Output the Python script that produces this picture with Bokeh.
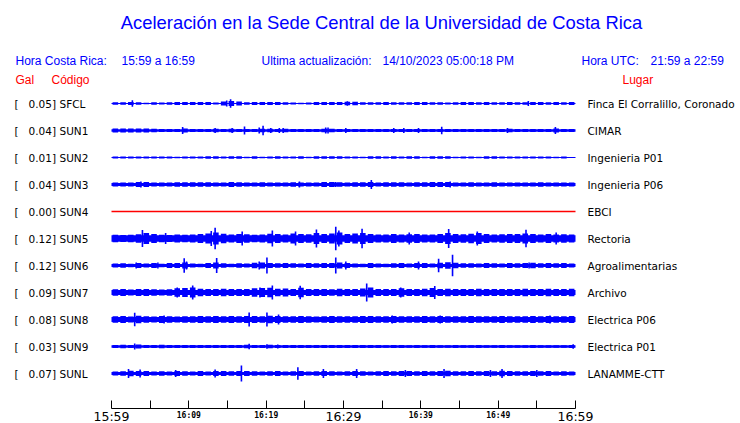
from bokeh.plotting import figure
from bokeh.layouts import column
from bokeh.models import Range1d, FixedTicker
from bokeh.core.properties import value
from bokeh.embed import file_html
from bokeh.resources import INLINE

# ---------------- data ----------------
title = "Aceleración en la Sede Central de la Universidad de Costa Rica"
hdr_left = ["Hora Costa Rica:", "15:59 a 16:59"]
hdr_mid = ["Ultima actualización:", "14/10/2023 05:00:18 PM"]
hdr_right = ["Hora UTC:", "21:59 a 22:59"]
col_heads = ["Gal", "Código", "Lugar"]

codes = ["SFCL", "SUN1", "SUN2", "SUN3", "SUN4", "SUN5", "SUN6", "SUN7", "SUN8", "SUN9", "SUNL"]
places = ["Finca El Corralillo, Coronado", "CIMAR", "Ingenieria P01", "Ingenieria P06", "EBCI",
          "Rectoria", "Agroalimentarias", "Archivo", "Electrica P06", "Electrica P01", "LANAMME-CTT"]
gal = [0.05, 0.04, 0.01, 0.04, 0.00, 0.12, 0.12, 0.09, 0.08, 0.03, 0.07]

tick_minutes = [0, 5, 10, 15, 20, 25, 30, 35, 40, 45, 50, 55, 60]
big_tick_minutes = [0, 30, 60]
big_tick_labels = ["15:59", "16:29", "16:59"]
small_tick_minutes = [10, 20, 40, 50]
small_tick_labels = ["16:09", "16:19", "16:39", "16:49"]

minutes = list(range(60))

# base (quiet) half-amplitude of each trace
floor = [0.5, 1.3, 0.5, 1.5, 0.0, 3.3, 1.5, 2.6, 2.6, 1.2, 1.5]

# per-minute envelope half-amplitude
env_sfcl = [1.2, 1.3, 1.5, 1.2, 0.8, 1.2, 1.0, 1.2, 1.6, 1.6,
            1.4, 1.6, 1.5, 1.0, 2.0, 2.6, 2.0, 1.2, 1.5, 1.4,
            1.6, 1.5, 1.2, 1.0, 0.8, 1.0, 1.4, 1.6, 1.6, 1.6,
            1.7, 1.7, 1.3, 1.2, 1.3, 1.4, 1.2, 1.3, 1.2, 1.4,
            1.4, 1.2, 1.3, 1.0, 1.2, 1.4, 1.4, 1.2, 1.4, 1.2,
            1.2, 1.4, 1.2, 1.3, 1.6, 1.4, 1.2, 1.4, 1.2, 1.4]
env_sun1 = [2.0, 2.0, 2.0, 1.9, 2.0, 1.8, 1.6, 1.6, 1.6, 2.0,
            1.6, 1.6, 1.6, 1.7, 1.6, 1.7, 1.6, 1.6, 1.6, 1.8,
            1.7, 1.6, 1.7, 1.6, 1.6, 1.6, 1.6, 1.7, 1.8, 1.6,
            1.6, 1.6, 1.5, 1.5, 1.5, 1.5, 1.6, 1.5, 1.5, 1.5,
            1.6, 1.5, 1.6, 1.5, 1.5, 1.5, 1.5, 1.5, 1.5, 1.5,
            1.5, 1.8, 1.6, 1.5, 1.5, 1.6, 1.6, 1.9, 1.6, 1.6]
env_sun2 = [1.0, 1.1, 1.0, 0.9, 0.9, 1.0, 1.1, 1.1, 0.8, 1.0,
            1.1, 0.9, 1.3, 1.2, 0.9, 1.3, 1.3, 0.7, 1.2, 0.8,
            1.1, 1.2, 1.0, 1.1, 1.2, 0.8, 1.2, 1.2, 1.3, 1.3,
            1.1, 1.0, 0.8, 1.2, 1.2, 1.0, 1.2, 1.0, 1.3, 1.3,
            0.7, 1.3, 1.3, 1.2, 0.7, 1.0, 1.0, 0.8, 1.2, 1.2,
            1.1, 1.1, 0.9, 1.1, 1.0, 1.0, 1.0, 0.7, 1.0, 0.6]
env_sun3 = [1.9, 2.0, 1.9, 2.4, 2.4, 1.9, 2.1, 1.9, 2.2, 2.3,
            2.3, 2.3, 2.2, 2.0, 2.1, 2.4, 2.3, 2.0, 2.1, 2.2,
            2.0, 2.1, 2.0, 2.2, 2.1, 2.0, 2.1, 2.4, 2.4, 2.3,
            2.1, 2.2, 2.3, 2.4, 2.1, 2.2, 2.2, 2.2, 2.1, 2.2,
            2.3, 2.4, 2.4, 2.4, 2.1, 2.0, 2.2, 2.1, 2.1, 2.3,
            2.1, 2.0, 2.0, 2.1, 2.0, 2.2, 2.0, 2.0, 1.9, 2.0]
env_sun4 = [0.0, 0.0, 0.0, 0.0, 0.0, 0.0, 0.0, 0.0, 0.0, 0.0,
            0.0, 0.0, 0.0, 0.0, 0.0, 0.0, 0.0, 0.0, 0.0, 0.0,
            0.0, 0.0, 0.0, 0.0, 0.0, 0.0, 0.0, 0.0, 0.0, 0.0,
            0.0, 0.0, 0.0, 0.0, 0.0, 0.0, 0.0, 0.0, 0.0, 0.0,
            0.0, 0.0, 0.0, 0.0, 0.0, 0.0, 0.0, 0.0, 0.0, 0.0,
            0.0, 0.0, 0.0, 0.0, 0.0, 0.0, 0.0, 0.0, 0.0, 0.0]
env_sun5 = [3.8, 3.5, 3.8, 4.2, 5.5, 4.6, 3.8, 3.6, 3.9, 3.8,
            4.0, 4.4, 5.0, 6.0, 4.8, 4.0, 4.6, 4.2, 3.8, 4.0,
            4.8, 4.6, 4.0, 5.0, 4.6, 4.2, 5.4, 4.6, 5.0, 6.0,
            4.6, 5.0, 5.5, 4.6, 4.0, 4.0, 4.4, 4.0, 4.2, 4.4,
            4.0, 4.0, 4.6, 5.4, 4.4, 4.2, 4.8, 5.4, 4.4, 4.0,
            4.2, 4.4, 4.6, 5.0, 4.4, 4.0, 4.4, 4.0, 4.2, 4.0]
env_sun6 = [2.0, 2.2, 1.8, 2.5, 2.0, 2.5, 1.8, 2.4, 2.5, 3.0,
            2.0, 1.8, 2.4, 3.0, 2.2, 1.8, 2.2, 2.0, 2.8, 3.0,
            2.5, 2.2, 2.5, 2.2, 2.0, 2.6, 2.2, 2.4, 2.6, 3.0,
            2.6, 2.0, 1.8, 2.4, 2.0, 1.8, 2.2, 2.4, 2.0, 2.6,
            2.4, 2.0, 2.8, 3.2, 2.8, 2.2, 2.2, 2.0, 2.4, 2.2,
            2.0, 2.4, 2.2, 2.4, 2.8, 2.2, 2.4, 2.2, 2.4, 2.0]
env_sun7 = [3.3, 3.5, 3.0, 3.4, 3.6, 3.2, 3.0, 3.3, 4.2, 4.4,
            5.0, 3.8, 3.5, 3.6, 3.8, 3.4, 3.6, 3.5, 4.2, 4.4,
            4.8, 3.8, 4.0, 3.6, 4.8, 3.5, 3.4, 3.6, 3.2, 3.8,
            3.5, 3.6, 4.0, 5.0, 3.6, 3.4, 3.6, 4.2, 3.5, 3.6,
            3.8, 4.6, 3.6, 3.8, 3.5, 3.6, 3.5, 3.8, 3.6, 3.4,
            3.6, 3.5, 3.4, 3.8, 3.6, 3.5, 3.8, 3.4, 3.6, 3.8]
env_sun8 = [3.2, 3.4, 3.0, 3.8, 3.2, 3.0, 3.6, 3.2, 3.0, 3.3,
            3.2, 3.4, 3.2, 3.5, 3.3, 3.4, 3.2, 3.6, 3.4, 3.2,
            3.8, 3.6, 3.3, 3.2, 3.4, 3.2, 3.1, 3.3, 3.4, 3.2,
            3.3, 3.2, 3.4, 3.5, 3.2, 3.3, 3.6, 3.2, 3.3, 3.2,
            3.4, 3.3, 3.6, 3.3, 3.2, 3.3, 3.4, 3.2, 3.3, 3.2,
            3.4, 3.2, 3.3, 3.2, 3.4, 3.3, 3.6, 3.2, 3.3, 3.4]
env_sun9 = [1.6, 1.7, 1.6, 2.0, 1.6, 1.5, 1.7, 1.6, 1.5, 1.6,
            1.5, 1.6, 1.5, 1.5, 1.6, 1.5, 1.6, 1.8, 1.5, 1.6,
            1.7, 1.6, 1.5, 1.5, 1.6, 1.5, 1.5, 1.6, 1.5, 1.5,
            1.5, 1.4, 1.5, 1.4, 1.4, 1.3, 1.4, 1.4, 1.3, 1.4,
            1.3, 1.4, 1.3, 1.3, 1.4, 1.3, 1.3, 1.4, 1.3, 1.3,
            1.4, 1.3, 1.3, 1.3, 1.4, 1.3, 1.3, 1.2, 1.3, 1.5]
env_sunl = [2.0, 2.3, 2.8, 2.5, 2.6, 2.0, 2.2, 2.0, 2.4, 2.2,
            2.0, 2.4, 2.0, 2.6, 2.4, 2.2, 2.4, 2.6, 2.3, 2.0,
            2.2, 2.4, 2.0, 2.2, 2.5, 2.0, 2.2, 2.6, 2.2, 2.0,
            2.2, 2.6, 2.2, 2.0, 2.2, 2.4, 2.2, 2.4, 2.6, 2.2,
            2.4, 2.3, 2.6, 2.8, 2.2, 2.2, 2.4, 2.2, 2.4, 2.2,
            2.8, 2.4, 2.2, 2.3, 2.4, 2.2, 2.4, 2.0, 2.2, 2.0]

# spikes: time (minutes after 15:59) and half-amplitude
spk_sfcl_t = [2.7, 14.9, 15.4, 30.5, 53.9]
spk_sfcl_a = [3.3, 3.0, 4.3, 2.2, 2.5]
spk_sun1_t = [9.2, 13.4, 15.6, 17.2, 19.1, 19.6, 20.6, 21.7, 22.2, 27.7, 28.0, 30.3, 36.5, 37.8, 39.7, 42.7, 51.2, 57.4]
spk_sun1_a = [3.5, 2.5, 2.5, 4.0, 3.0, 4.7, 2.5, 2.5, 2.5, 3.0, 3.0, 2.5, 2.5, 2.5, 2.5, 3.8, 2.5, 3.5]
spk_sun2_t = []
spk_sun2_a = []
spk_sun3_t = [3.8, 24.3, 29.0, 33.6, 43.8]
spk_sun3_a = [3.0, 3.0, 2.6, 4.5, 3.0]
spk_sun4_t = []
spk_sun4_a = []
spk_sun5_t = [4.0, 7.0, 12.9, 13.4, 16.9, 20.8, 23.8, 26.5, 29.0, 29.4, 32.4, 38.5, 43.6, 47.3, 53.6, 57.5]
spk_sun5_a = [8.5, 5.5, 7.5, 10.8, 7.0, 8.0, 7.0, 9.0, 11.7, 8.0, 9.8, 6.0, 9.5, 7.0, 8.7, 6.0]
spk_sun6_t = [3.2, 6.0, 9.4, 9.7, 13.6, 19.1, 20.1, 29.0, 30.3, 39.7, 42.3, 44.1, 54.0]
spk_sun6_a = [3.0, 3.0, 7.3, 4.0, 7.5, 4.0, 8.0, 8.0, 4.0, 4.0, 6.8, 10.8, 3.0]
spk_sun7_t = [8.5, 10.5, 19.2, 20.8, 24.4, 33.0, 37.4, 41.8]
spk_sun7_a = [5.0, 7.0, 5.0, 7.0, 6.7, 9.0, 5.0, 6.5]
spk_sun8_t = [3.0, 6.8, 17.8, 20.1, 21.6, 36.3, 42.5, 56.7]
spk_sun8_a = [6.8, 4.0, 7.0, 7.0, 5.0, 4.0, 4.0, 4.0]
spk_sun9_t = [3.0, 17.8, 20.1, 21.5, 59.7]
spk_sun9_a = [3.0, 2.8, 2.3, 2.0, 2.2]
spk_sunl_t = [2.2, 3.7, 8.3, 13.4, 16.8, 24.1, 27.4, 31.7, 38.0, 43.0, 49.0, 50.5, 55.0]
spk_sunl_a = [4.5, 4.0, 3.5, 4.0, 8.0, 6.2, 4.5, 4.5, 3.5, 4.5, 3.5, 4.5, 3.5]

envs = [env_sfcl, env_sun1, env_sun2, env_sun3, env_sun4, env_sun5,
        env_sun6, env_sun7, env_sun8, env_sun9, env_sunl]
spikes = [(spk_sfcl_t, spk_sfcl_a), (spk_sun1_t, spk_sun1_a), (spk_sun2_t, spk_sun2_a),
          (spk_sun3_t, spk_sun3_a), (spk_sun4_t, spk_sun4_a), (spk_sun5_t, spk_sun5_a),
          (spk_sun6_t, spk_sun6_a), (spk_sun7_t, spk_sun7_a), (spk_sun8_t, spk_sun8_a),
          (spk_sun9_t, spk_sun9_a), (spk_sunl_t, spk_sunl_a)]

# ---------------- layout ----------------
FIG_W = 740
MAIN_H = 410                   # main panel height (pixels)
LAB_H = 13                     # tick-label strip height
PX_PER_MIN = 464 / 60          # pixels per minute
T0_PX = 111                    # x pixel of 15:59
AXIS_PX = 408                  # y pixel of the time axis line
ROW0, ROW_STEP = 103, 27       # y pixel of first trace, spacing
BLUE, RED = "#0000ff", "#ff0000"


def dx(px):
    return (px - T0_PX) / PX_PER_MIN


xr = Range1d(dx(0), dx(FIG_W))
p = figure(width=FIG_W, height=MAIN_H, output_backend="svg", toolbar_location=None,
           x_range=xr, y_range=Range1d(AXIS_PX, 0),
           y_axis_location=None, x_axis_location="below",
           min_border_left=0, min_border_right=0, min_border_top=0,
           min_border_bottom=MAIN_H - AXIS_PX)
p.outline_line_color = None
p.grid.visible = False
p.background_fill_color = "white"
p.border_fill_color = "white"

# time axis: line + inward ticks
ax = p.xaxis[0]
ax.ticker = FixedTicker(ticks=[], minor_ticks=tick_minutes)
ax.bounds = (tick_minutes[0], tick_minutes[-1])
ax.major_tick_in = 0
ax.major_tick_out = 0
ax.minor_tick_in = 8
ax.minor_tick_out = 0
ax.minor_tick_line_color = "black"
ax.axis_line_color = "black"
ax.major_label_standoff = 0

# traces
t_start, t_end = minutes[0], minutes[-1] + 1
for i in range(len(codes)):
    yc = ROW0 + ROW_STEP * i
    if gal[i] == 0:
        p.line([t_start, t_end], [yc + e for e in (envs[i][0], envs[i][-1])],
               line_color=RED, line_width=1.3)
        continue
    f = floor[i]
    p.quad(left=[t_start], right=[t_end], bottom=[yc + f], top=[yc - f],
           fill_color=BLUE, line_color=None)
    xs = [m + 0.5 for m in minutes]
    p.vbar(x=xs, width=0.72, top=[yc - e for e in envs[i]], bottom=[yc + e for e in envs[i]],
           fill_color=BLUE, line_color=None)
    st, sa = spikes[i]
    if st:
        p.segment(x0=st, x1=st, y0=[yc - a for a in sa], y1=[yc + a for a in sa],
                  line_color=BLUE, line_width=1.6)

# row labels
rows_y = [ROW0 + ROW_STEP * i for i in range(len(codes))]
row_font = value("DejaVu Sans")
p.text(x=[dx(14)] * len(codes), y=rows_y, text=["["] * len(codes), text_font=row_font,
       text_font_size="10.5px", text_color="black", text_baseline="middle", text_align="left")
p.text(x=[dx(55.5)] * len(codes), y=rows_y, text=["%.2f]" % g for g in gal], text_font=row_font,
       text_font_size="10.5px", text_color="black", text_baseline="middle", text_align="right")
p.text(x=[dx(59)] * len(codes), y=rows_y, text=codes, text_font=row_font,
       text_font_size="10.5px", text_color="black", text_baseline="middle", text_align="left")
p.text(x=[dx(587)] * len(codes), y=rows_y, text=places, text_font=row_font,
       text_font_size="10.5px", text_color="black", text_baseline="middle", text_align="left")

# title & headers
sans = value("Liberation Sans")
p.text(x=[dx(381)], y=[22], text=[title], text_font=sans, text_font_size="18.4px",
       text_color=BLUE, text_align="center", text_baseline="middle")
p.text(x=[dx(15), dx(121), dx(261), dx(382), dx(581), dx(650)], y=[60] * 6,
       text=hdr_left + hdr_mid + hdr_right, text_font=sans, text_font_size="12px",
       text_color=BLUE, text_align="left", text_baseline="middle")
p.text(x=[dx(15), dx(51), dx(622)], y=[79] * 3, text=col_heads, text_font=sans,
       text_font_size="12px", text_color=RED, text_align="left", text_baseline="middle")

# tick-label strip under the axis (shares the time scale)
q = figure(width=FIG_W, height=LAB_H, output_backend="svg", toolbar_location=None,
           x_range=xr, y_range=Range1d(MAIN_H + LAB_H, MAIN_H),
           x_axis_location=None, y_axis_location=None,
           min_border_left=0, min_border_right=0, min_border_top=0, min_border_bottom=0)
q.outline_line_color = None
q.grid.visible = False
q.background_fill_color = "white"
q.border_fill_color = "white"
q.text(x=big_tick_minutes, y=[415.5] * len(big_tick_minutes), text=big_tick_labels,
       text_font=value("DejaVu Sans"), text_font_size="12.5px", text_color="black",
       text_align="center", text_baseline="middle")
q.text(x=small_tick_minutes, y=[414.5] * len(small_tick_minutes), text=small_tick_labels,
       text_font=value("DejaVu Sans Mono"), text_font_size="8px", text_font_style="bold",
       text_color="black", text_align="center", text_baseline="middle")

layout = column(p, q, spacing=0)
open("out.html", "w").write(file_html(layout, INLINE))
